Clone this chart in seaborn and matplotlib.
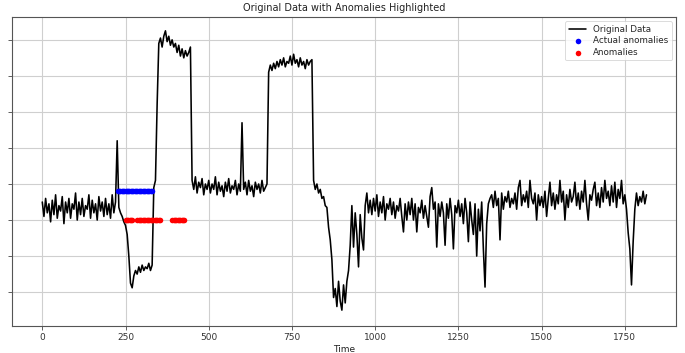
import numpy as np
import pandas as pd
import matplotlib
matplotlib.use("Agg")
import matplotlib.pyplot as plt
import seaborn as sns

# ---- data (one value every 5 time steps) ----
step = 5
values = [
    2.5, 2.1, 2.6, 2.2, 2.45, 1.95, 2.55, 2.15, 2.7, 2.05,      # 0-45
    2.4, 2.25, 2.65, 1.9, 2.5, 2.2, 2.6, 2.05, 2.45, 2.3,       # 50-95
    2.75, 2.0, 2.5, 2.15, 2.6, 2.1, 2.4, 2.3, 2.7, 2.05,        # 100-145
    2.55, 2.2, 2.45, 2.0, 2.65, 2.25, 2.5, 2.1, 2.6, 2.15,      # 150-195
    2.45, 2.05, 2.7, 2.2, 2.5, 4.2, 2.35, 2.2, 2.1, 1.95,       # 200-245
    1.85, 1.6, 1.0, 0.25, 0.12, 0.45, 0.6, 0.5, 0.7, 0.55,      # 250-295
    0.75, 0.6, 0.7, 0.65, 0.8, 0.6, 0.75, 2.9, 3.1, 5.2,        # 300-345
    6.9, 7.05, 6.8, 7.1, 7.25, 6.95, 7.1, 6.85, 7.0, 6.8,       # 350-395
    6.9, 6.65, 6.85, 6.55, 6.75, 6.5, 6.7, 6.55, 6.65, 6.8,     # 400-445
    3.1, 2.85, 3.2, 2.75, 3.05, 2.9, 3.15, 2.7, 3.0, 2.85,      # 450-495
    3.1, 2.75, 3.0, 2.85, 3.2, 2.7, 3.05, 2.8, 2.95, 2.65,      # 500-545
    3.05, 2.8, 3.15, 2.75, 2.95, 2.85, 3.1, 2.7, 3.0, 2.8,      # 550-595
    4.7, 2.85, 3.05, 2.7, 3.1, 2.8, 2.95, 2.65, 3.05, 2.85,     # 600-645
    3.0, 2.75, 3.1, 2.8, 2.9, 3.0, 6.1, 6.3, 6.15, 6.35,        # 650-695
    6.2, 6.4, 6.25, 6.45, 6.3, 6.5, 6.25, 6.4, 6.35, 6.55,      # 700-745
    6.3, 6.6, 6.35, 6.45, 6.25, 6.5, 6.3, 6.4, 6.2, 6.45,       # 750-795
    6.3, 6.4, 6.45, 3.1, 2.85, 3.0, 2.75, 2.85, 2.6, 2.65,      # 800-845
    2.4, 2.35, 1.8, 1.45, 0.9, -0.15, 0.1, -0.4, 0.3, -0.25,    # 850-895
    -0.5, 0.2, -0.3, 0.3, 0.6, 1.3, 2.4, 1.25, 2.2, 1.6,        # 900-945
    0.7, 2.15, 1.5, 1.17, 2.4, 2.75, 2.2, 2.55, 2.15, 2.6,      # 950-995
    2.25, 2.7, 2.1, 2.5, 2.2, 2.65, 2.0, 2.45, 2.3, 2.6,        # 1000-1045
    2.15, 2.5, 2.05, 2.4, 2.25, 2.6, 2.1, 1.67, 2.45, 2.0,      # 1050-1095
    2.5, 2.15, 2.6, 2.0, 2.45, 1.67, 2.35, 2.2, 2.55, 2.05,     # 1100-1145
    2.4, 2.1, 1.8, 2.65, 2.9, 2.3, 2.5, 1.25, 2.45, 2.1,        # 1150-1195
    2.5, 2.2, 1.3, 2.45, 2.05, 2.6, 2.15, 1.2, 2.4, 2.2,        # 1200-1245
    2.55, 2.1, 2.45, 1.9, 2.6, 2.2, 1.4, 2.5, 2.0, 1.6,         # 1250-1295
    2.45, 1.0, 2.3, 1.7, 2.5, 1.2, 0.14, 1.9, 2.45, 2.6,        # 1300-1345
    2.7, 2.35, 2.8, 2.4, 2.6, 1.45, 2.75, 2.3, 2.65, 2.5,       # 1350-1395
    2.8, 2.35, 2.6, 2.45, 2.75, 2.3, 2.9, 3.1, 2.4, 2.7,        # 1400-1445
    2.5, 2.8, 2.35, 3.1, 2.6, 2.45, 2.75, 2.0, 2.7, 2.4,        # 1450-1495
    2.65, 2.35, 2.8, 2.1, 2.6, 3.05, 2.4, 2.75, 2.3, 2.7,       # 1500-1545
    2.45, 3.1, 2.5, 2.8, 2.0, 2.7, 2.35, 2.85, 2.5, 2.65,       # 1550-1595
    3.05, 2.4, 2.75, 2.3, 2.8, 2.5, 3.1, 2.45, 2.0, 2.7,        # 1600-1645
    2.55, 2.85, 3.05, 2.4, 2.75, 2.35, 2.9, 2.5, 3.1, 2.6,      # 1650-1695
    2.8, 2.4, 2.95, 2.5, 3.05, 2.35, 2.85, 2.6, 3.1, 2.45,      # 1700-1745
    2.7, 2.3, 1.65, 1.2, 0.2, 1.4, 2.3, 2.75, 2.4, 2.65,        # 1750-1795
    2.5, 2.8, 2.45, 2.7,                                        # 1800-1815
]
time = np.arange(len(values)) * step

actual_times = [226, 230, 234, 238, 242, 246, 250, 254, 258, 262, 266, 270,
                274, 278, 282, 286, 290, 294, 298, 302, 306, 310, 314, 318,
                322, 326, 330]
actual_level = 2.8

anomaly_times = [251, 255, 259, 263, 267, 270,
                 286, 290, 294, 298, 302, 306, 310, 314, 318, 322, 326, 330,
                 334, 338, 342, 346, 350, 354,
                 391, 395, 399, 403, 407, 411, 415, 419, 423, 427]
anomaly_level = 2.0

x_ticks = [0, 250, 500, 750, 1000, 1250, 1500, 1750]
y_ticks = [0, 1, 2, 3, 4, 5, 6, 7]

# ---- figure ----
sns.set_style("white")
plt.rcParams['font.family'] = ['DejaVu Sans']

fig = plt.figure(figsize=(6.85, 3.53), dpi=100)
ax = fig.add_axes([0.0175, 0.0765, 0.970, 0.876])

df = pd.DataFrame({"Time": time, "Value": values})
sns.lineplot(data=df, x="Time", y="Value", color="black", linewidth=1.15,
             label="Original Data", ax=ax, zorder=2)
sns.scatterplot(x=actual_times, y=[actual_level] * len(actual_times),
                color="blue", s=16, linewidth=0, label="Actual anomalies",
                ax=ax, zorder=3)
sns.scatterplot(x=anomaly_times, y=[anomaly_level] * len(anomaly_times),
                color="red", s=16, linewidth=0, label="Anomalies",
                ax=ax, zorder=3)

ax.set_xlim(-91, 1905)
ax.set_ylim(-0.94, 7.64)
ax.set_xticks(x_ticks)
ax.set_yticks(y_ticks)
ax.set_yticklabels([])
ax.tick_params(axis="both", labelsize=6.5, length=3, width=0.6,
               color="#444444", labelcolor="#333333", left=True, bottom=True,
               pad=2)
ax.grid(True, color="#cfcfcf", linewidth=0.8)
for sp in ax.spines.values():
    sp.set_color("#555555")
    sp.set_linewidth(0.8)

ax.set_title("Original Data with Anomalies Highlighted", fontsize=7, pad=4,
             color="#222222")
ax.set_xlabel("Time", fontsize=6.5, labelpad=2, color="#222222")
ax.set_ylabel("")

leg = ax.legend(loc="upper right", fontsize=6.3, frameon=True,
                borderaxespad=0.5, handlelength=2.0, labelspacing=0.3)
leg.get_frame().set_edgecolor("#cccccc")
leg.get_frame().set_linewidth(0.6)

fig.savefig("out.png", dpi=100)
